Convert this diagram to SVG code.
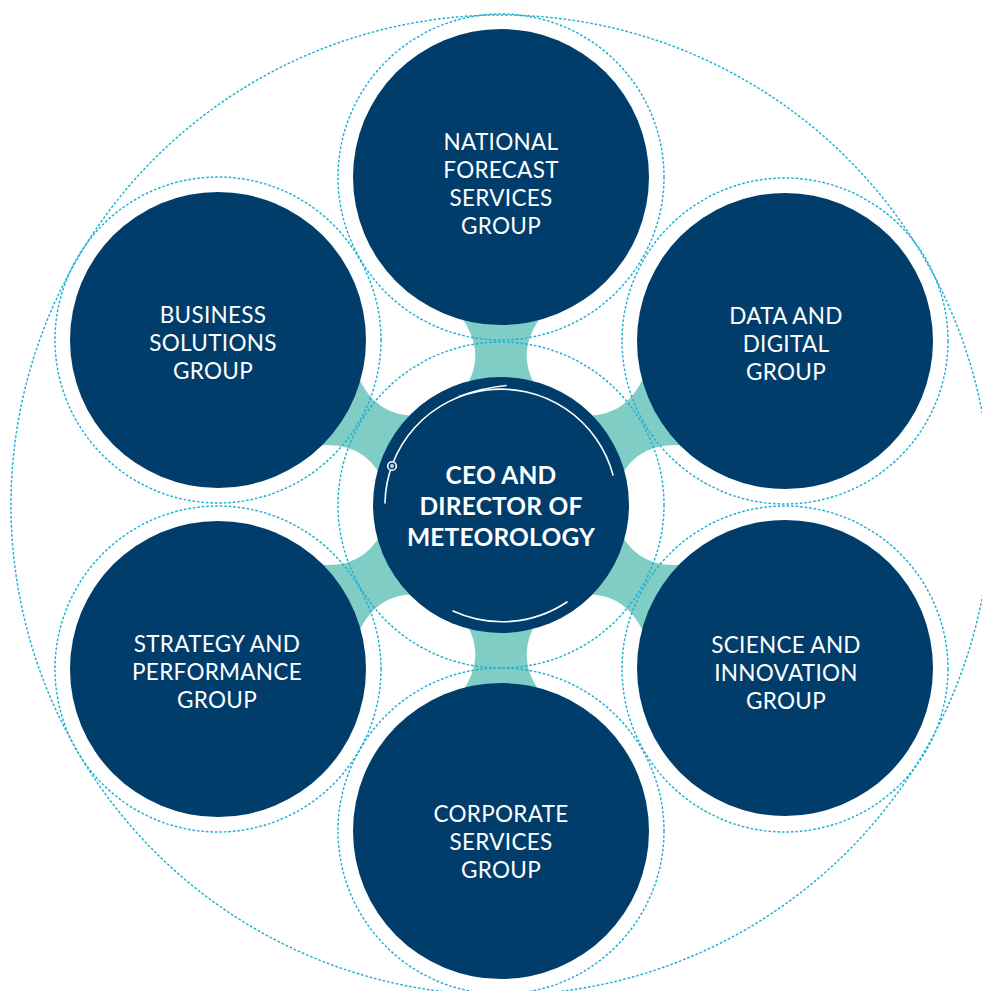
<svg xmlns="http://www.w3.org/2000/svg" width="982" height="991" viewBox="0 0 982 991">
  <defs>
    <style>
      .node { fill: #013d6b; }
      .ring { fill: none; stroke: #1fb0d1; stroke-width: 1.45; stroke-dasharray: 2.6 1.9; }
      .bridge { fill: #80cdc6; }
      .lbl { font-family: Lato, "Open Sans", "Liberation Sans", sans-serif; font-size: 22.5px; fill: #ffffff; text-anchor: middle; letter-spacing: 0.3px; }
      .ceo { font-family: Lato, "Open Sans", "Liberation Sans", sans-serif; font-size: 24.5px; font-weight: 700; fill: #ffffff; text-anchor: middle; letter-spacing: 0.2px; }
      .deco { fill: none; stroke: #ffffff; stroke-width: 1.6; stroke-linecap: round; }
    </style>
    <!-- one teal bridge, pointing up from the hub centre (0,0) -->
    <path id="bridgeShape" d="M -42,-108 Q -5,-155 -52,-202 L 52,-202 Q 5,-155 42,-108 Z"/>
  </defs>

  <rect width="982" height="991" fill="#ffffff"/>

  <!-- connectors: teal bridges between the hub and each group -->
  <g id="connectors" class="bridge" transform="translate(501,505)">
    <use href="#bridgeShape"/>
    <use href="#bridgeShape" transform="rotate(60)"/>
    <use href="#bridgeShape" transform="rotate(120)"/>
    <use href="#bridgeShape" transform="rotate(180)"/>
    <use href="#bridgeShape" transform="rotate(240)"/>
    <use href="#bridgeShape" transform="rotate(300)"/>
  </g>

  <!-- dotted orbit rings -->
  <g id="rings">
    <circle class="ring" cx="501" cy="505" r="490"/>
    <circle class="ring" cx="501" cy="505" r="163"/>
    <circle class="ring" cx="501" cy="177" r="163"/>
    <circle class="ring" cx="785" cy="341" r="163"/>
    <circle class="ring" cx="785" cy="669" r="163"/>
    <circle class="ring" cx="501" cy="831" r="163"/>
    <circle class="ring" cx="218" cy="669" r="163"/>
    <circle class="ring" cx="218" cy="340" r="163"/>
  </g>

  <g id="national-forecast">
    <circle class="node" cx="501" cy="177" r="148"/>
    <text class="lbl" x="501" y="150">NATIONAL</text>
    <text class="lbl" x="501" y="178">FORECAST</text>
    <text class="lbl" x="501" y="206">SERVICES</text>
    <text class="lbl" x="501" y="234">GROUP</text>
  </g>

  <g id="data-digital">
    <circle class="node" cx="785" cy="341" r="148"/>
    <text class="lbl" x="786" y="324">DATA AND</text>
    <text class="lbl" x="786" y="352">DIGITAL</text>
    <text class="lbl" x="786" y="380">GROUP</text>
  </g>

  <g id="science-innovation">
    <circle class="node" cx="785" cy="668" r="148"/>
    <text class="lbl" x="786" y="653">SCIENCE AND</text>
    <text class="lbl" x="786" y="681">INNOVATION</text>
    <text class="lbl" x="786" y="709">GROUP</text>
  </g>

  <g id="corporate-services">
    <circle class="node" cx="501" cy="831" r="148"/>
    <text class="lbl" x="501" y="822">CORPORATE</text>
    <text class="lbl" x="501" y="850">SERVICES</text>
    <text class="lbl" x="501" y="878">GROUP</text>
  </g>

  <g id="strategy-performance">
    <circle class="node" cx="218" cy="669" r="148"/>
    <text class="lbl" x="217" y="652">STRATEGY AND</text>
    <text class="lbl" x="217" y="680">PERFORMANCE</text>
    <text class="lbl" x="217" y="708">GROUP</text>
  </g>

  <g id="business-solutions">
    <circle class="node" cx="218" cy="340" r="148"/>
    <text class="lbl" x="213" y="323">BUSINESS</text>
    <text class="lbl" x="213" y="351">SOLUTIONS</text>
    <text class="lbl" x="213" y="379">GROUP</text>
  </g>

  <g id="ceo">
    <circle class="node" cx="501" cy="505" r="128"/>
    <path class="deco" d="M 385,503 A 116 116 0 0 1 613,475"/>
    <path class="deco" d="M 459,396.5 Q 482,388 506,385.5"/>
    <path class="deco" d="M 453,611 A 117 117 0 0 0 567,602"/>
    <circle cx="392" cy="466" r="4.3" fill="#013d6b" stroke="#ffffff" stroke-width="1.6"/>
    <circle cx="392" cy="466" r="2" fill="#c9d4df"/>
    <text class="ceo" x="501" y="484">CEO AND</text>
    <text class="ceo" x="501" y="515">DIRECTOR OF</text>
    <text class="ceo" x="501" y="546">METEOROLOGY</text>
  </g>
</svg>
